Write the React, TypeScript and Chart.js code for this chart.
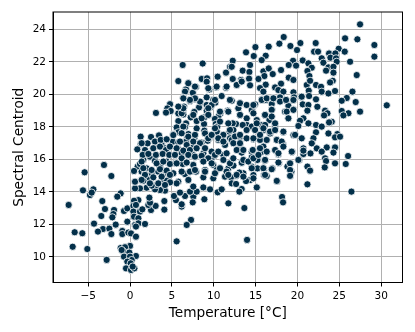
import React, { useEffect, useRef } from "react";
import { Chart, registerables } from "chart.js";

Chart.register(...registerables);

const temperature = [
6.29,8.68,5.77,7.0,8.56,9.2,9.16,10.47,11.47,11.95,7.88,6.69,6.57,7.5,9.48,10.27,11.47,6.37,7.17,7.76,8.44,9.16,9.95,10.19,10.95,4.78,4.46,4.86,4.3,3.1,5.97,6.45,6.37,5.77,6.37,8.24,9.16,9.64,9.16,7.68,7.25,8.88,11.67,10.79,10.55,10.15,5.77,6.69,7.96,8.84,10.24,10.43,5.57,6.57,7.96,8.88,10.36,5.77,5.17,6.97,11.87,1.27,2.51,3.46,6.85,7.68,8.96,9.48,4.3,3.7,1.27,2.1,0.87,2.98,3.78,5.1,5.77,6.69,8.56,9.28,10.55,11.35,11.95,7.56,6.77,4.18,5.77,
-3.11,-5.42,-2.23,-5.62,-4.38,-4.78,-4.58,-1.12,-1.52,-7.33,-3.31,-1.91,-2.99,-1.99,-3.43,-2.11,-0.72,-0.32,-4.3,-1.71,-0.32,-3.23,-2.47,-3.83,-2.23,-6.61,-5.7,-0.92,-0.92,-0.2,0.12,0.71,-6.85,-5.1,-2.79,5.57,
0,-1.12,-0.6,-0.8,-0.08,-0.72,0.71,0,0.2,-0.32,0.08,-0.48,0.12,0.52,0.32,-1,
1,0.48,0.4,0.71,0.4,0.48,1.19,1.47,1,0.6,1,1.79,0.71,2.51,2.19,3.06,2.39,4.1,4.1,2.31,7.29,6.77,5.49,5.25,6.17,6.17,6.57,5.97,7.56,7.49,8.88,7.96,7.17,7.56,8.76,9.56,10.47,10.95,11.75,4.18,3.58,2.98,1.99,1.19,0.6,0.6,0.91,1.19,0.48,1.39,1.99,1.79,2.19,1.59,2.59,3.38,4.3,3.18,3.78,4.38,2.59,2.39,2.98,1.59,4.38,3.58,5.37,6.29,7.56,8.76,9.95,11.15,5.17,6.57,7.17,7.88,8.76,9.95,11.35,5.77,6.97,5.57,4.78,10.36,11.75,8.96,6.17,7.56,8.76,9.95,
27.48,25.69,27.16,29.19,29.19,18.36,17.84,16.57,14.98,19.16,20.35,19.95,22.18,21.99,22.46,24.93,25.65,23.78,24.53,13.86,14.78,16.21,15.73,12.27,19.48,20.63,22.9,23.94,24.61,26.29,24.69,23.1,12.15,14.34,18.96,19.84,21.31,21.71,23.7,24.3,13.46,14.26,15.93,16.57,17.05,18.04,21.19,23.42,24.3,27.08,16.05,12.27,13.26,14.22,15.34,18.96,19.52,21.43,24.22,23.9,12.75,14.34,16.21,18.04,21.11,22.22,21.51,15.53,17.33,22.82,17.72,15.93,18.32,19.52,21.35,22.9,23.7,24.49,26.57,25.89,25.29,26.96,30.67,12.15,13.14,14.94,15.73,16.25,17.05,17.92,19.6,20.43,21.39,22.22,18.64,12.95,14.74,16.93,18.92,20.63,22.38,21.31,23.3,25.29,27.48,26.09,25.49,24.1,23.58,23.18,21.19,19.52,18.52,16.93,16.13,14.54,13.14,13.94,15.14,16.65,18.92,20.71,20.31,21.31,20.11,22.22,22.9,23.78,17.33,15.73,13.94,12.67,12.27,13.46,14.54,15.93,12.35,18.32,19.52,23.7,24.77,24.49,25.09,22.22,21.91,21.71,12.15,13.14,14.74,15.53,16.73,17.53,18.32,15.93,13.14,20.71,22.31,23.5,24.49,
26.05,24.3,22.9,21.55,20.71,19.36,17.72,15.65,14.54,13.34,20.23,19.12,18.8,17.8,16.13,15.22,14.54,13.34,12.35,14.54,15.22,16.01,17.01,21.19,21.51,23.3,23.42,23.26,24.49,25.77,19.28,19.16,17.57,16.01,16.33,14.74,13.54,13.06,12.67,12.07,14.34,13.86,12.15,12.67,13.34,13.06,15.14,21.19,26.45,18.16,18.28,13.66,13.98
];

const centroid = [
21.81,21.9,20.82,20.68,20.95,20.99,20.78,21.09,21.34,21.7,20.45,20.31,20.17,20.1,20.31,20.43,20.41,19.8,19.6,19.7,19.51,19.82,19.66,19.49,19.9,19.4,19.14,18.98,18.88,18.86,19.2,19.25,19.04,18.83,18.77,19.2,19.35,19.23,19.0,18.92,18.59,18.59,19.0,18.83,18.63,18.49,18.36,18.22,18.36,18.18,18.18,18.02,17.97,18.0,17.91,17.77,17.71,17.67,17.54,17.56,17.71,17.4,17.38,17.48,17.34,17.3,17.6,17.3,17.2,17.15,16.95,16.99,16.62,16.78,16.89,17.09,17.05,17.09,17.03,17.15,17.2,16.89,17.3,16.78,16.74,16.68,16.64,
15.66,15.21,14.98,14.1,14.16,13.81,13.96,13.91,13.71,13.2,13.44,12.89,12.95,12.64,12.52,12.44,12.83,12.99,12.05,11.99,12.17,11.72,11.74,11.56,11.41,11.52,11.46,11.6,11.41,11.5,11.45,11.25,10.63,10.49,9.82,10.96,
10.68,10.55,10.6,10.33,10.27,10.02,10.06,10.02,9.81,9.71,9.61,9.3,9.2,9.3,9.41,10.43,
13.5,13.46,13.14,13.2,12.79,12.48,12.79,12.93,12.38,11.97,12.07,12.03,11.87,12.89,13.2,13.14,13.34,13.44,12.91,13.65,12.28,11.97,13.5,13.75,13.1,13.24,13.75,13.96,13.71,13.36,13.55,14.02,14.02,14.33,14.28,14.16,13.98,14.16,13.3,14.08,14.12,14.16,14.26,14.22,14.22,14.63,15.56,15.72,15.29,15.25,15.45,15.1,14.74,14.69,15.15,15.25,15.19,14.43,14.63,14.69,14.39,16.17,15.92,15.97,15.86,15.56,15.76,15.72,15.66,15.97,15.66,16.27,15.15,15.1,15.25,15.25,14.9,14.84,14.94,14.63,14.74,14.53,14.59,15.35,15.45,15.35,16.38,16.27,16.38,16.17,
24.31,23.45,23.39,23.04,22.32,23.53,23.12,22.94,22.91,22.98,23.16,22.73,23.16,22.63,22.63,22.81,22.63,22.52,22.52,22.59,22.36,22.38,22.11,22.07,22.07,22.09,22.22,22.26,22.22,22.01,22.01,21.95,21.7,21.81,21.81,21.77,21.91,21.64,21.66,21.7,21.46,21.38,21.42,21.6,21.25,21.5,21.44,21.46,21.34,21.19,21.13,20.95,20.89,20.97,20.95,21.03,20.89,21.13,20.84,20.74,20.56,20.56,20.6,20.66,20.58,20.58,20.84,20.39,20.43,20.47,20.27,20.17,20.17,20.13,20.23,20.17,20.06,20.21,20.17,19.78,19.61,19.53,19.33,19.61,19.45,19.39,19.7,19.66,19.76,19.82,19.82,19.86,19.9,19.7,19.66,19.14,19.31,19.41,19.29,19.39,19.24,19.35,19.0,18.98,18.94,18.84,18.71,18.32,18.84,18.71,19.0,19.08,18.94,19.08,18.73,19.04,18.73,18.53,18.42,18.42,18.53,18.53,18.38,18.22,18.06,18.12,18.02,18.28,18.02,18.12,18.12,18.18,18.22,18.12,18.02,17.81,17.81,17.67,17.5,17.6,17.56,17.36,17.4,17.67,17.3,16.99,17.2,17.4,17.24,17.2,17.6,17.2,16.89,16.79,16.89,16.68,16.68,16.74,16.74,
16.21,16.42,16.48,16.37,16.33,16.48,16.31,16.44,16.48,16.42,15.97,15.76,15.56,15.78,15.92,15.97,16.13,15.8,15.62,15.56,15.45,15.41,15.45,15.56,15.31,16.07,15.9,15.51,15.76,15.72,15.25,14.98,14.65,15.04,14.98,15.04,15.15,15.19,15.0,14.9,14.73,14.67,14.53,14.49,14.18,14.02,14.28,14.47,14.02,13.69,13.36,13.01,11.05
];

const temperatureDense = [
1.39,2.98,3.66,4.38,1.79,2.78,3.58,4.3,4.77,1.51,2.19,3.1,3.9,4.69,1.39,3.18,3.98,4.77,1.59,2.58,3.58,4.38,1.79,2.78,3.78,4.77,1.39,2.38,3.38,4.18,
6.37,5.17,6.17,6.96,7.76,5.97,6.77,7.56,8.36,9.35,9.75,5.57,6.37,7.16,7.96,8.96,9.75,5.37,6.17,6.96,7.76,8.56,9.35,10.15,5.57,6.77,8.76,9.75,6.17,7.16,7.76,8.96,10.15,11.15,11.94,10.55,11.94,12.54,13.14,13.93,12.34,13.14,13.93,12.74,13.54,11.54,12.34,13.54,14.13,11.54,10.75,12.74,11.74,13.54,10.75,11.74,12.94,13.14,11.94,13.14,13.93,9.75,9.35,10.15,8.36,7.76,7.16,6.37,6.96,7.76,9.35,10.35,11.54,12.74,13.34,6.17,6.37,5.77,7.56,8.56,9.35,10.75,11.74,10.15,11.15,10.55,11.15,
14.74,15.73,16.33,17.13,17.92,18.64,19.52,20.51,14.74,16.13,16.93,18.72,19.52,16.93,18.92,15.14,16.13,17.33,14.94,15.93,16.73,17.33,18.32,14.74,15.53,16.33,17.53,18.12,19.72,20.51,14.66,15.53,16.33,17.33,18.32,17.73,19.32,20.71,14.74,15.34,16.13,17.73,19.12,20.11,14.54,15.93,16.93,19.12,16.13,14.74,17.53,19.12
];

const centroidDense = [
17.0,17.1,17.2,17.24,16.58,16.69,16.79,16.58,16.79,16.28,16.34,16.28,16.34,16.28,15.87,15.76,15.87,15.72,15.46,15.35,15.4,15.31,15.05,14.9,14.94,15.05,14.74,14.53,14.53,14.43,
18.02,17.5,17.61,17.4,17.51,17.1,16.89,17.1,17.0,17.3,17.51,16.69,16.54,16.58,16.69,16.69,16.48,16.28,16.07,16.28,16.17,16.22,16.07,16.28,15.76,15.81,15.87,15.76,15.25,15.25,15.35,15.25,15.15,15.97,15.76,16.48,17.82,17.41,17.51,17.81,17.0,17.0,17.3,16.58,16.58,16.38,16.07,15.97,15.87,15.25,15.46,15.05,15.05,14.94,18.94,18.94,19.15,18.74,19.66,19.46,19.35,19.35,19.15,19.66,19.56,19.76,19.66,19.76,20.69,20.48,20.38,20.48,20.48,20.58,20.79,18.84,19.15,19.25,18.74,18.53,18.74,18.33,18.22,17.92,17.51,17.3,17.1,
19.35,19.66,19.76,19.76,19.56,19.66,19.66,19.86,18.84,18.74,19.05,18.94,19.05,18.64,18.53,18.22,18.12,18.22,17.81,17.92,17.71,17.81,17.71,17.3,17.51,17.2,17.2,17.1,17.51,17.3,16.58,16.69,16.48,16.58,16.79,16.38,16.48,16.54,16.07,16.28,15.97,15.81,15.76,15.97,15.46,15.46,15.4,15.35,15.05,14.84,14.68,14.99
];

const xTicks = [-5, 0, 5, 10, 15, 20, 25, 30];
const yTicks = [10, 12, 14, 16, 18, 20, 22, 24];
const xLabel = "Temperature [°C]";
const yLabel = "Spectral Centroid";

const FONT = "'DejaVu Sans'";

const frame = {
  id: "frame",
  afterDatasetsDraw(chart: any) {
    const { ctx, chartArea: a } = chart;
    ctx.save();
    ctx.strokeStyle = "#000";
    ctx.lineWidth = 1;
    ctx.strokeRect(a.left, a.top, a.right - a.left, a.bottom - a.top);
    ctx.restore();
  },
};

export default function App() {
  const ref = useRef<HTMLCanvasElement>(null);
  useEffect(() => {
    const xs = [...temperature, ...temperatureDense];
    const ys = [...centroid, ...centroidDense];
    const chart = new Chart(ref.current!, {
      type: "scatter",
      data: {
        datasets: [
          {
            data: xs.map((x, i) => ({ x, y: ys[i] })),
            backgroundColor: "#03304a",
            borderColor: "#ffffff",
            borderWidth: 0.8,
            pointRadius: 3.6,
          },
        ],
      },
      options: {
        animation: false,
        responsive: false,
        layout: { padding: { top: 12, right: 12.5, left: 0, bottom: 0 } },
        plugins: { legend: { display: false }, tooltip: { enabled: false } },
        scales: {
          x: {
            type: "linear",
            min: -9.2,
            max: 32.55,
            afterBuildTicks: (s: any) => { s.ticks = xTicks.map((value) => ({ value })); },
            afterFit: (s: any) => { s.height = 49.5; },
            grid: { color: "#b0b0b0", lineWidth: 1, tickColor: "#000", tickLength: 4 },
            border: { color: "#000", width: 1 },
            ticks: {
              color: "#000",
              maxRotation: 0,
              padding: 3,
              font: { family: FONT, size: 10.5 },
              callback: (v: any) => String(v).replace("-", "\u2212"),
            },
            title: { display: true, text: xLabel, color: "#000", padding: { top: 0, bottom: 10 }, font: { family: FONT, size: 13.7 } },
          },
          y: {
            type: "linear",
            min: 8.43,
            max: 25.07,
            afterBuildTicks: (s: any) => { s.ticks = yTicks.map((value) => ({ value })); },
            afterFit: (s: any) => { s.width = 53; },
            grid: { color: "#b0b0b0", lineWidth: 1, tickColor: "#000", tickLength: 4 },
            border: { color: "#000", width: 1 },
            ticks: { color: "#000", padding: 3, font: { family: FONT, size: 10.5 } },
            title: { display: true, text: yLabel, color: "#000", padding: { top: 11, bottom: 0 }, font: { family: FONT, size: 13.7 } },
          },
        },
      },
      plugins: [frame],
    });
    return () => chart.destroy();
  }, []);
  return (
    <div style={{ position: "absolute", left: 0, top: 0, width: 415, height: 332, background: "#fff" }}>
      <canvas ref={ref} width={415} height={332} style={{ display: "block" }} />
    </div>
  );
}
